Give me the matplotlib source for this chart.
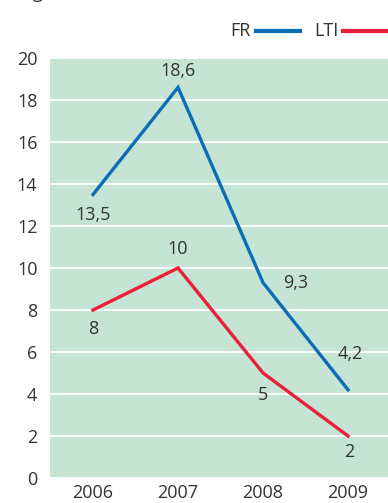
import matplotlib
matplotlib.use("Agg")
import matplotlib.pyplot as plt
from matplotlib.lines import Line2D

years = ["2006", "2007", "2008", "2009"]
fr_values = [13.5, 18.6, 9.3, 4.2]
lti_values = [8, 10, 5, 2]
fr_labels = ["13,5", "18,6", "9,3", "4,2"]
lti_labels = ["8", "10", "5", "2"]
y_ticks = [0, 2, 4, 6, 8, 10, 12, 14, 16, 18, 20]

BLUE = "#0b6db5"
RED = "#e8203a"
BG = "#c6e4d3"
TXT = "#333333"
FS = 13

plt.rcParams["font.family"] = ["Open Sans", "DejaVu Sans"]

W, H = 388, 503
fig = plt.figure(figsize=(W / 100, H / 100), dpi=100)
ax = fig.add_axes([50 / W, 1 - 478 / H, 1 - 50 / W, (478 - 58) / H])
ax.set_facecolor(BG)

x = list(range(len(years)))
ax.plot(x, fr_values, color=BLUE, lw=2.4, solid_joinstyle="miter", zorder=3)
ax.plot(x, lti_values, color=RED, lw=2.4, solid_joinstyle="miter", zorder=3)

ax.set_xlim(-0.506, 3.47)
ax.set_ylim(0, 20)
ax.set_yticks(y_ticks)
ax.set_xticks(x)
ax.set_xticklabels(years)
ax.yaxis.grid(True, color="white", lw=1.3)
ax.set_axisbelow(True)
for s in ax.spines.values():
    s.set_visible(False)
ax.tick_params(length=0, labelsize=FS, colors=TXT)
ax.tick_params(axis="y", pad=9)
ax.tick_params(axis="x", pad=4)

px = 0.72  # points per pixel at 100 dpi
fr_offsets = [(0, -20), (0, 16), (33, 0), (2, 36)]
lti_offsets = [(0, -19), (0, 19), (0, -22), (1, -16)]
for xi, v, lab, (dx, dy) in zip(x, fr_values, fr_labels, fr_offsets):
    ax.annotate(lab, (xi, v), xytext=(dx * px, dy * px), textcoords="offset points",
                ha="center", va="center", fontsize=FS, color=TXT)
for xi, v, lab, (dx, dy) in zip(x, lti_values, lti_labels, lti_offsets):
    ax.annotate(lab, (xi, v), xytext=(dx * px, dy * px), textcoords="offset points",
                ha="center", va="center", fontsize=FS, color=TXT)

# legend drawn in figure pixel coordinates
def fx(p):
    return p / W

def fy(p):
    return 1 - p / H

fig.text(fx(240), fy(31), "FR", ha="center", va="center", fontsize=FS, color=TXT)
fig.add_artist(Line2D([fx(256), fx(300)], [fy(31), fy(31)], color=BLUE, lw=3))
fig.text(fx(326), fy(31), "LTI", ha="center", va="center", fontsize=FS, color=TXT)
fig.add_artist(Line2D([fx(343), fx(388)], [fy(31), fy(31)], color=RED, lw=3))

# descender of the heading above the chart
fig.text(fx(38), fy(-2), "g", ha="center", va="baseline", fontsize=FS, color=TXT)

fig.savefig("out.png", dpi=100, facecolor="white")
